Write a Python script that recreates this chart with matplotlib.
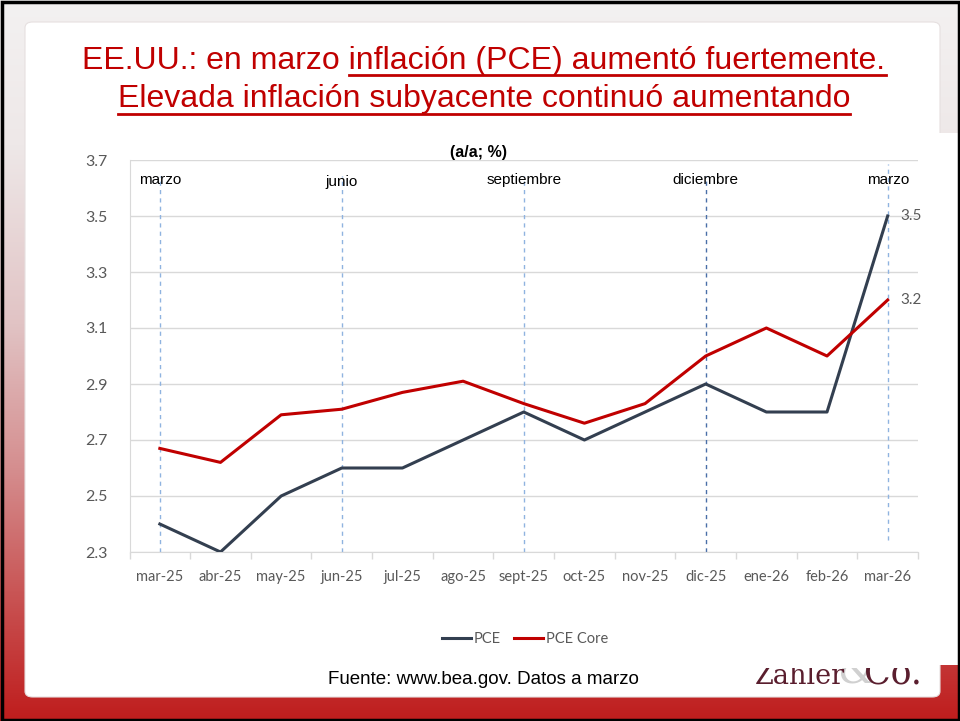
import matplotlib
matplotlib.use("Agg")
import matplotlib.pyplot as plt
import matplotlib.font_manager as fm
import numpy as np
from matplotlib.patches import FancyBboxPatch, Rectangle
from matplotlib.colors import LinearSegmentedColormap
from matplotlib.lines import Line2D

# datos (a/a; %)
meses = ["mar-25", "abr-25", "may-25", "jun-25", "jul-25", "ago-25", "sept-25",
         "oct-25", "nov-25", "dic-25", "ene-26", "feb-26", "mar-26"]
pce = [2.4, 2.3, 2.5, 2.6, 2.6, 2.7, 2.8, 2.7, 2.8, 2.9, 2.8, 2.8, 3.5]
pce_core = [2.67, 2.62, 2.79, 2.81, 2.87, 2.91, 2.83, 2.76, 2.83, 3.0, 3.1, 3.0, 3.2]
marcas_idx = [0, 3, 6, 9, 12]
marcas_txt = ["marzo", "junio", "septiembre", "diciembre", "marzo"]
yticks = [2.3, 2.5, 2.7, 2.9, 3.1, 3.3, 3.5, 3.7]

ROJO = "#c00000"
AZUL = "#333f50"
GRIS = "#595959"


def fuente(nombre, alterna):
    try:
        fm.findfont(nombre, fallback_to_default=False)
        return nombre
    except Exception:
        return alterna


ANGOSTA = fuente("Liberation Sans Narrow", "Liberation Sans")
ARIAL = "Liberation Sans"
CALIBRI = "Lato"

W, H = 960, 721
fig = plt.figure(figsize=(W / 100, H / 100), dpi=100)

# fondo degradado gris -> rojo
bg = fig.add_axes([0, 0, 1, 1], zorder=-10)
cmap = LinearSegmentedColormap.from_list(
    "fondo", [(0, "#f3f1f1"), (0.2, "#eee8e8"), (0.45, "#e1c3c4"),
              (0.65, "#d58e8f"), (0.82, "#c95656"), (1, "#bf1d1d")])
grad = np.linspace(0, 1, 256).reshape(-1, 1)
bg.imshow(grad, aspect="auto", cmap=cmap, extent=[0, 1, 0, 1], origin="upper")
bg.set_xlim(0, 1)
bg.set_ylim(0, 1)
bg.axis("off")

# panel blanco
panel = FancyBboxPatch((25 / W, 1 - 697 / H), 915 / W, 675 / H,
                       boxstyle="round,pad=0,rounding_size=0.008",
                       transform=fig.transFigure, facecolor="white",
                       edgecolor="#e6e0e0", linewidth=0.8, zorder=-5)
fig.patches.append(panel)
fig.patches.append(Rectangle((938 / W, 1 - 665 / H), 22 / W, 532 / H,
                             transform=fig.transFigure, facecolor="white",
                             edgecolor="none", zorder=-4))
fig.patches.append(Rectangle((1.5 / W, 1.5 / H), 957 / W, 718 / H,
                             transform=fig.transFigure, fill=False,
                             edgecolor="black", linewidth=2.5, zorder=20))

# grafico
ax = fig.add_axes([129.5 / W, 1 - 552 / H, 788.5 / W, 392 / H])
ax.set_facecolor("none")
x = np.arange(len(meses))
ax.plot(x, pce, color=AZUL, lw=2.2, label="PCE", zorder=4)
ax.plot(x, pce_core, color=ROJO, lw=2.2, label="PCE Core", zorder=5)

ax.set_xlim(-0.5, len(meses) - 0.5)
ax.set_ylim(2.3, 3.7)
ax.set_yticks(yticks)
ax.set_yticklabels([f"{v:.1f}" for v in yticks], fontfamily=CALIBRI,
                   fontsize=11.5, color=GRIS)
ax.set_xticks(x)
ax.set_xticklabels(meses, fontfamily=CALIBRI, fontsize=10.5, color=GRIS)
ax.set_xticks(np.arange(-0.5, len(meses)), minor=True)
ax.tick_params(axis="x", which="major", length=0, pad=13)
ax.tick_params(axis="x", which="minor", length=5, color="#d9d9d9", width=1)
ax.tick_params(axis="y", length=0, pad=16)
ax.grid(axis="y", color="#d9d9d9", lw=1)
ax.set_axisbelow(True)
for lado in ["top", "right"]:
    ax.spines[lado].set_visible(False)
ax.spines["left"].set_color("#d9d9d9")
ax.spines["bottom"].set_color("#d9d9d9")

# lineas de trimestre
for i, txt in zip(marcas_idx, marcas_txt):
    col = "#4a6fa8" if txt == "diciembre" else "#8fb3e0"
    arriba = 0.99 if i == marcas_idx[-1] else 0.96
    abajo = 0.03 if i == marcas_idx[-1] else 0.0
    ax.axvline(i, ymin=abajo, ymax=arriba, color=col, lw=1, ls=(0, (3, 3)),
               zorder=2)
    dy = 3.622 if txt == "junio" else 3.629
    ax.text(i, dy, txt, ha="center", va="center", fontfamily=ARIAL,
            fontsize=11, color="black", zorder=6)

fig.text(479 / W, 1 - 152 / H, "(a/a; %)", ha="center", va="center",
         fontfamily=ARIAL, fontweight="bold", fontsize=11.5)

for serie in [pce, pce_core]:
    ax.annotate(f"{serie[-1]:.1f}", xy=(x[-1], serie[-1]), xytext=(9, 0),
                textcoords="offset points", ha="left", va="center",
                fontfamily=CALIBRI, fontsize=11, color=GRIS)

ax.legend(loc="center", bbox_to_anchor=(525 / W, 1 - 639 / H),
          bbox_transform=fig.transFigure, ncol=2, frameon=False,
          prop={"family": CALIBRI, "size": 10.5}, labelcolor=GRIS,
          handlelength=2.0, handletextpad=0.2, columnspacing=0.9)

# titulo con subrayado
linea1 = "EE.UU.: en marzo inflación (PCE) aumentó fuertemente."
sub1 = "inflación (PCE) aumentó fuertemente."
linea2 = "Elevada inflación subyacente continuó aumentando"
kw = dict(fontfamily=ANGOSTA, fontsize=23, color=ROJO, ha="center",
          va="baseline")
t1 = fig.text(484 / W, 1 - 69 / H, linea1, **kw)
t2 = fig.text(484 / W, 1 - 107 / H, linea2, **kw)
fig.canvas.draw()
r = fig.canvas.get_renderer()
tmp = fig.text(0, 0, sub1, **kw)
w_sub = tmp.get_window_extent(r).width
tmp.remove()
b1 = t1.get_window_extent(r)
b2 = t2.get_window_extent(r)
for x0, x1, yb in [(b1.x1 - w_sub, b1.x1, H - 75), (b2.x0, b2.x1, H - 114)]:
    fig.lines.append(Line2D([x0 / W, x1 / W], [yb / H, yb / H],
                            transform=fig.transFigure, color=ROJO, lw=2))

# fuente
fig.text(483 / W, 1 - 684 / H, "Fuente: www.bea.gov. Datos a marzo",
         ha="center", va="baseline", fontfamily=ANGOSTA, fontsize=13.5,
         color="black")

# logo (parte superior tapada por el grafico)
logo = [
    (838 / W, "&", "#d0d0d0", 30),
    (755 / W, "Zahler", "#5a1e2e", 19.5),
    (864 / W, "Co.", "#5a1e2e", 25),
]
for lx, txt, col, fs in logo:
    fig.text(lx, 1 - 684 / H, txt, ha="left", va="baseline",
             fontfamily="DejaVu Serif", fontsize=fs, color=col, zorder=1)
tapa = Rectangle((740 / W, 1 - 668 / H), 198 / W, 45 / H,
                 transform=fig.transFigure, facecolor="white",
                 edgecolor="none", zorder=2)
fig.artists.append(tapa)
tapa.set_figure(fig)

fig.savefig("out.png", dpi=100)
